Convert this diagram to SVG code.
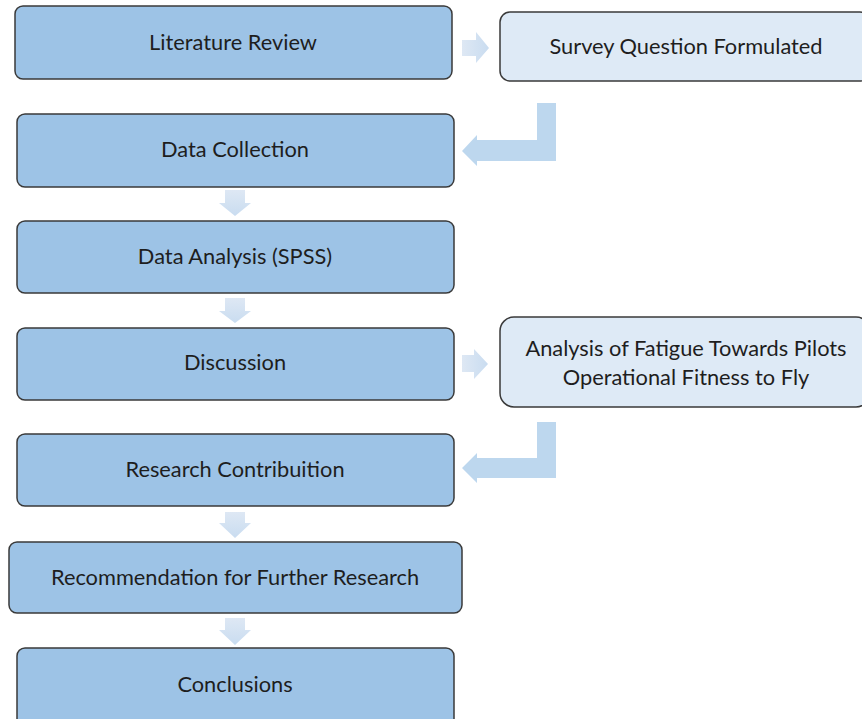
<svg xmlns="http://www.w3.org/2000/svg" width="862" height="719" viewBox="0 0 862 719">
<defs>
<linearGradient id="gv" x1="0" y1="0" x2="0" y2="1"><stop offset="0" stop-color="#DEE8F4"/><stop offset="1" stop-color="#C9DCF0"/></linearGradient>
<linearGradient id="gh" x1="0" y1="0" x2="1" y2="0"><stop offset="0" stop-color="#DEE8F4"/><stop offset="1" stop-color="#C9DCF0"/></linearGradient>
</defs>
<style>
.m{fill:#9DC3E6;stroke:#3A3A3A;stroke-width:1.5}
.l{fill:#DEEAF6;stroke:#3A3A3A;stroke-width:1.5}
text{font-family:Lato,"Open Sans","Liberation Sans",sans-serif;font-size:21.8px;fill:#1E1E1E;text-anchor:middle}
.b{fill:#BDD7EE}
</style>
<rect width="862" height="719" fill="#fff"/>
<g id="literature-review"><rect class="m" x="15" y="6" width="437" height="73" rx="8"/><text x="233" y="50">Literature Review</text></g>
<g id="survey-question"><rect class="l" x="500" y="12" width="370" height="69" rx="10"/><text x="686" y="54">Survey Question Formulated</text></g>
<g id="data-collection"><rect class="m" x="17" y="114" width="437" height="73" rx="8"/><text x="235" y="157">Data Collection</text></g>
<g id="data-analysis"><rect class="m" x="17" y="221" width="437" height="72" rx="8"/><text x="235" y="264">Data Analysis (SPSS)</text></g>
<g id="discussion"><rect class="m" x="17" y="328" width="437" height="72" rx="8"/><text x="235" y="370">Discussion</text></g>
<g id="analysis-fatigue"><rect class="l" x="500" y="317" width="370" height="90" rx="14"/><text x="686" y="356">Analysis of Fatigue Towards Pilots</text><text x="686" y="385">Operational Fitness to Fly</text></g>
<g id="research-contribution"><rect class="m" x="17" y="434" width="437" height="72" rx="8"/><text x="235" y="477">Research Contribuition</text></g>
<g id="recommendation"><rect class="m" x="9" y="542" width="453" height="71" rx="8"/><text x="235" y="585">Recommendation for Further Research</text></g>
<g id="conclusions"><rect class="m" x="17" y="648" width="437" height="80" rx="8"/><text x="235" y="692">Conclusions</text></g>
<g id="connectors">
<polygon fill="url(#gh)" points="462,40 476,40 476,32 489,48 476,63 476,56 462,56"/>
<polygon fill="url(#gh)" points="462,355 474,355 474,349 488,364 474,379 474,372 462,372"/>
<polygon class="b" points="537,103 556,103 556,161 477,161 477,166 462,151 477,135 477,140 537,140"/>
<polygon class="b" points="537,422 556,422 556,478 477,478 477,483 462,468 477,453 477,458 537,458"/>
<polygon fill="url(#gv)" points="225,190 245,190 245,203 251,203 235,216 219,203 225,203"/>
<polygon fill="url(#gv)" points="225,298 245,298 245,311 251,311 235,323 219,311 225,311"/>
<polygon fill="url(#gv)" points="225,512 245,512 245,523 251,523 235,538 219,523 225,523"/>
<polygon fill="url(#gv)" points="225,618 245,618 245,630 251,630 235,645 219,630 225,630"/>
</g>
</svg>
